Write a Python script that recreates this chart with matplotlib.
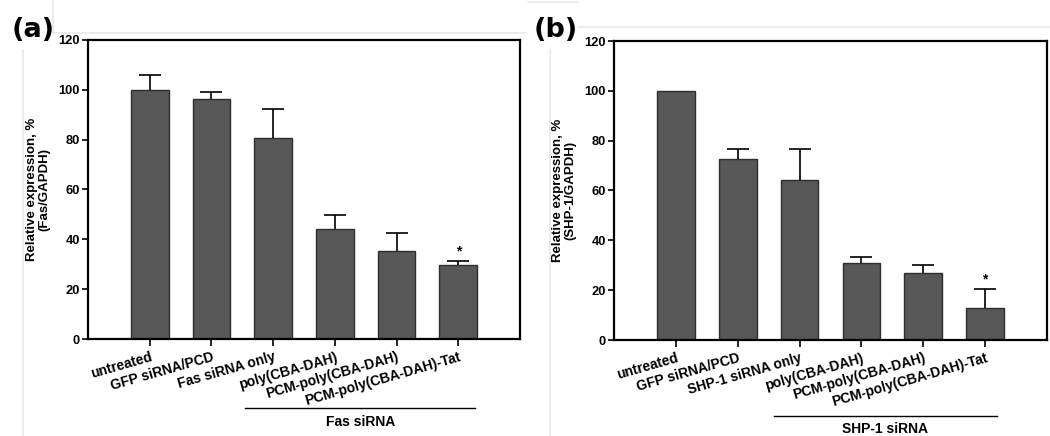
import numpy as np
import matplotlib
matplotlib.use("Agg")
import matplotlib.pyplot as plt
import matplotlib.transforms as mtransforms
from matplotlib.lines import Line2D

plt.rcParams['font.family'] = ['Liberation Sans', 'DejaVu Sans']
plt.rcParams['font.weight'] = 'bold'

# panel (a) : Fas knockdown
labelsA = ["untreated", "GFP siRNA/PCD", "Fas siRNA only", "poly(CBA-DAH)",
           "PCM-poly(CBA-DAH)", "PCM-poly(CBA-DAH)-Tat"]
meansA = [100.0, 96.5, 80.5, 44.2, 35.2, 29.8]
errA = [5.8, 2.5, 12.0, 5.4, 7.3, 1.5]

# panel (b) : SHP-1 knockdown
labelsB = ["untreated", "GFP siRNA/PCD", "SHP-1 siRNA only", "poly(CBA-DAH)",
           "PCM-poly(CBA-DAH)", "PCM-poly(CBA-DAH)-Tat"]
meansB = [100.0, 72.8, 64.2, 31.0, 27.0, 13.0]
errB = [0.0, 3.8, 12.4, 2.3, 3.1, 7.3]

yTicks = [0, 20, 40, 60, 80, 100, 120]


def drawPanel(ax, labels, means, err, ylabel, groupName, groupSpan, groupY, starIdx):
    x = np.arange(len(means))
    ax.bar(x, means, width=0.61, color='#575757', edgecolor='#2e2e2e', linewidth=1.0, zorder=2)

    # only upper error bars, and none where the error is 0
    idx = [i for i in range(len(err)) if err[i] > 0]
    eb = ax.errorbar(x[idx], [means[i] for i in idx],
                     yerr=[np.zeros(len(idx)), [err[i] for i in idx]],
                     fmt='none', ecolor='black', elinewidth=1.2, capsize=8, capthick=1.2, zorder=3)
    eb[1][0].set_visible(False)   # lower caps sit on the bar top, hide them

    ax.text(starIdx, means[starIdx] + err[starIdx] + 1.0, "*", ha='center', va='bottom',
            fontsize=10, fontweight='bold')

    ax.set_xlim(-1, len(means))
    ax.set_ylim(0, 120)
    ax.set_yticks(yTicks)
    ax.set_yticklabels([str(t) for t in yTicks], fontsize=9.3, fontweight='bold')
    ax.set_xticks(x)
    ax.set_xticklabels(labels, rotation=16, ha='right', rotation_mode='anchor',
                       fontsize=10, fontweight='bold')
    ax.tick_params(axis='x', length=5, width=1.2, pad=3)
    ax.tick_params(axis='y', length=4, width=1.2, pad=2)
    ax.tick_params(top=False, right=False)
    for s in ax.spines.values():
        s.set_linewidth(1.6)
        s.set_color('black')

    ax.set_ylabel(ylabel, fontsize=9.5, fontweight='bold', linespacing=1.1)
    ax.yaxis.set_label_coords(-0.086, 0.5)

    # group bracket under the labels
    trans = mtransforms.blended_transform_factory(ax.transData, ax.transAxes)
    ax.plot(groupSpan, [groupY, groupY], color='black', lw=1.0, transform=trans, clip_on=False)
    ax.text(np.mean(groupSpan), groupY - 0.045, groupName, transform=trans, ha='center', va='center',
            fontsize=10, fontweight='bold')


fig = plt.figure(figsize=(10.5, 4.36), dpi=100)

axA = fig.add_axes([88 / 1050, 97 / 436, 432 / 1050, 299 / 436])
axB = fig.add_axes([614 / 1050, 96 / 436, 433 / 1050, 299 / 436])

drawPanel(axA, labelsA, meansA, errA, "Relative expression, %\n(Fas/GAPDH)",
          "Fas siRNA", [1.55, 5.27], -0.231, 5)
drawPanel(axB, labelsB, meansB, errB, "Relative expression, %\n(SHP-1/GAPDH)",
          "SHP-1 siRNA", [1.58, 5.19], -0.254, 5)

fig.text(33 / 1050, 1 - 30 / 436, "(a)", ha='center', va='center', fontsize=19.5,
         fontweight='bold', family='DejaVu Sans')
fig.text(556 / 1050, 1 - 30 / 436, "(b)", ha='center', va='center', fontsize=19.5,
         fontweight='bold', family='DejaVu Sans')

# faint frame lines left over from the original figure layout
W, H = 1050.0, 436.0
faint = [((53, 525), (33, 33)), ((22.7, 22.7), (50, 436)), ((53, 53), (0, 33)),
         ((578, 1050), (27, 27)), ((549.5, 549.5), (50, 436)), ((528, 578), (2, 2))]
for xs, ys in faint:
    fig.add_artist(Line2D([xs[0] / W, xs[1] / W], [1 - ys[0] / H, 1 - ys[1] / H],
                          color='#e9e9e9', lw=1.2, transform=fig.transFigure, zorder=0))

plt.savefig('out.png', dpi=100)
